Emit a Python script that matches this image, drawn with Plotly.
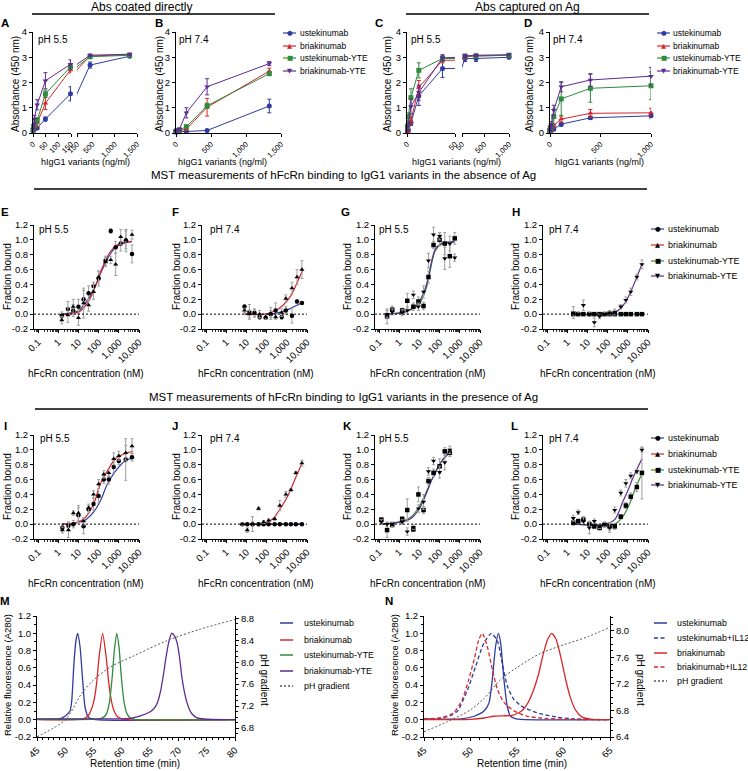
import plotly.graph_objects as go

W, H = 748, 771
FONT = "Liberation Sans, Arial, Helvetica, sans-serif"
BLUE = "#2f3b9e"
RED = "#d8262c"
GREEN = "#2f8c3c"
PURPLE = "#5e2b8f"
ERRGRAY = "#9e9e9e"
PHGRAY = "#555555"

series_names = ["ustekinumab", "briakinumab", "ustekinumab-YTE", "briakinumab-YTE"]
series_colors = [BLUE, RED, GREEN, PURPLE]
series_symbols = ["circle", "triangle-up", "square", "triangle-down"]
series_glyphs = ["\u25CF", "\u25B2", "\u25A0", "\u25BC"]

# ---------------- ELISA data (A-D) ----------------
conc_AB = [0.6, 1.8, 5.5, 16.5, 49, 148, 444, 1333]
A_ust = [0.08, 0.12, 0.15, 0.2, 0.55, 1.55, 2.69, 3.04]
A_ust_err = [0.02, 0.03, 0.04, 0.05, 0.08, 0.28, 0.12, 0.05]
A_bri = [0.1, 0.15, 0.25, 0.4, 1.18, 2.5, 3.05, 3.1]
A_bri_err = [0.02, 0.04, 0.08, 0.15, 0.25, 0.12, 0.06, 0.04]
A_uyte = [0.12, 0.2, 0.3, 0.5, 1.55, 2.62, 3.02, 3.08]
A_uyte_err = [0.02, 0.04, 0.08, 0.1, 0.15, 0.12, 0.05, 0.05]
A_byte = [0.15, 0.3, 0.55, 1.12, 2.07, 2.72, 3.08, 3.12]
A_byte_err = [0.03, 0.08, 0.15, 0.2, 0.32, 0.18, 0.05, 0.04]

B_ust = [0.04, 0.05, 0.05, 0.05, 0.05, 0.06, 0.1, 1.07]
B_ust_err = [0.01, 0.01, 0.01, 0.01, 0.02, 0.02, 0.03, 0.27]
B_bri = [0.05, 0.05, 0.06, 0.07, 0.09, 0.15, 1.02, 2.45]
B_bri_err = [0.01, 0.01, 0.01, 0.02, 0.02, 0.04, 0.35, 0.12]
B_uyte = [0.05, 0.06, 0.07, 0.09, 0.12, 0.25, 1.08, 2.35]
B_uyte_err = [0.01, 0.01, 0.01, 0.02, 0.03, 0.05, 0.1, 0.06]
B_byte = [0.06, 0.08, 0.1, 0.12, 0.15, 0.8, 1.83, 2.75]
B_byte_err = [0.01, 0.01, 0.02, 0.03, 0.05, 0.2, 0.32, 0.08]

conc_C = [0.46, 1.37, 4.1, 12.3, 37, 111, 333, 1000]
C_ust = [0.05, 0.1, 0.4, 1.47, 2.55, 2.95, 2.95, 3.0]
C_ust_err = [0.02, 0.05, 0.1, 0.38, 0.35, 0.12, 0.12, 0.06]
C_bri = [0.05, 0.2, 0.5, 1.8, 2.88, 3.02, 3.05, 3.08]
C_bri_err = [0.02, 0.08, 0.15, 0.28, 0.1, 0.05, 0.05, 0.04]
C_uyte = [0.25, 0.65, 1.4, 2.48, 2.95, 3.05, 3.05, 3.08]
C_uyte_err = [0.08, 0.15, 0.35, 0.3, 0.12, 0.06, 0.05, 0.04]
C_byte = [0.1, 0.35, 1.05, 1.6, 2.98, 3.05, 3.08, 3.1]
C_byte_err = [0.04, 0.1, 0.3, 0.3, 0.12, 0.06, 0.05, 0.04]

conc_D = [0.46, 1.37, 4.1, 12.3, 37, 111, 400, 1000]
D_ust = [0.05, 0.06, 0.08, 0.1, 0.15, 0.35, 0.6, 0.68]
D_ust_err = [0.01, 0.01, 0.02, 0.02, 0.03, 0.08, 0.05, 0.08]
D_bri = [0.06, 0.08, 0.1, 0.15, 0.3, 0.55, 0.78, 0.8]
D_bri_err = [0.01, 0.02, 0.02, 0.03, 0.05, 0.12, 0.15, 0.18]
D_uyte = [0.1, 0.12, 0.18, 0.25, 0.65, 1.35, 1.77, 1.87]
D_uyte_err = [0.02, 0.03, 0.05, 0.08, 0.3, 0.65, 0.55, 0.55]
D_byte = [0.1, 0.15, 0.25, 0.35, 0.9, 1.83, 2.1, 2.25]
D_byte_err = [0.02, 0.03, 0.05, 0.1, 0.2, 0.2, 0.25, 0.35]

# ---------------- MST data (E-L) ----------------
conc_E = [1.5, 3, 5.5, 10, 18, 32, 56, 100, 220, 400, 700, 1250, 2250, 4500]
E_ust = [-0.02, 0.07, 0.05, 0.1, 0.2, 0.28, 0.38, 0.48, 0.72, 1.12, 0.9, 0.95, 0.99, 0.81]
E_ust_err = [0.05, 0.1, 0.08, 0.1, 0.12, 0.1, 0.05, 0.1, 0.06, 0.03, 0.08, 0.1, 0.15, 0.12]
E_bri = [-0.08, -0.01, 0.1, -0.05, 0.15, 0.12, 0.3, 0.5, 0.7, 0.73, 0.67, 1.04, 1.0, 1.07]
E_bri_err = [0.05, 0.1, 0.1, 0.1, 0.2, 0.08, 0.1, 0.08, 0.06, 0.05, 0.15, 0.1, 0.12, 0.06]
fitE_c = [1.5, 5, 11, 18, 40, 89, 126, 224, 400, 708, 1500, 4500]
fitE_ust = [0.0, 0.02, 0.05, 0.12, 0.25, 0.45, 0.55, 0.7, 0.82, 0.9, 0.95, 0.98]
fitE_bri = [-0.01, 0.01, 0.03, 0.08, 0.22, 0.45, 0.57, 0.73, 0.85, 0.92, 0.96, 0.98]

conc_F = [8, 14, 25, 45, 90, 160, 280, 560, 900, 1800, 3200, 5600]
F_ust = [0.1, 0.03, 0.02, -0.04, -0.05, 0.0, 0.05, -0.04, 0.05, -0.02, 0.17, 0.15]
F_ust_err = [0.03, 0.1, 0.05, 0.03, 0.02, 0.05, 0.1, 0.03, 0.05, 0.1, 0.02, 0.02]
F_bri = [0.05, 0.0, 0.01, 0.0, -0.04, 0.01, -0.04, 0.02, 0.21, 0.35, 0.5, 0.6]
F_bri_err = [0.03, 0.05, 0.05, 0.05, 0.03, 0.08, 0.03, 0.05, 0.05, 0.08, 0.1, 0.12]
fitF_ust_c = [8, 160, 400, 900, 1600, 3200, 5600]
fitF_ust = [0.0, 0.0, 0.02, 0.05, 0.08, 0.12, 0.15]
fitF_bri_c = [8, 90, 280, 650, 1600, 3200, 6300]
fitF_bri = [0.0, 0.0, 0.05, 0.12, 0.25, 0.42, 0.6]

conc_G = [0.25, 0.45, 1.4, 2.5, 5, 8.9, 16, 28, 50, 100, 180, 320, 560]
G_uyte = [-0.03, 0.06, 0.05, 0.18, 0.1, 0.17, 0.11, 0.5, 0.93, 1.0, 0.95, 0.78, 1.02]
G_uyte_err = [0.1, 0.05, 0.03, 0.1, 0.05, 0.06, 0.05, 0.08, 0.05, 0.08, 0.15, 0.15, 0.08]
G_byte = [0.0, 0.03, 0.02, 0.05, 0.26, 0.1, 0.3, 0.72, 1.07, 1.05, 0.75, 0.95, 0.76]
G_byte_err = [0.05, 0.04, 0.04, 0.05, 0.05, 0.05, 0.08, 0.1, 0.1, 0.05, 0.15, 0.1, 0.05]
fitG_c = [0.25, 1.4, 3, 5, 8.9, 18, 28, 35, 60, 120, 560]
fitG_uyte = [0.0, 0.02, 0.05, 0.08, 0.12, 0.28, 0.46, 0.6, 0.85, 0.94, 0.97]
fitG_byte = [0.0, 0.02, 0.05, 0.09, 0.15, 0.32, 0.5, 0.64, 0.87, 0.95, 0.98]

conc_H = [2, 3.5, 6.3, 12.5, 22, 40, 70, 125, 225, 450, 800, 1400, 2800, 5000]
H_uyte = [0.0, 0.0, 0.0, 0.0, 0.0, 0.0, 0.0, 0.0, 0.0, 0.0, 0.0, 0.0, 0.0, 0.0]
H_uyte_err = [0.01, 0.01, 0.01, 0.01, 0.01, 0.01, 0.01, 0.01, 0.01, 0.01, 0.01, 0.01, 0.01, 0.01]
H_byte = [0.02, 0.0, 0.12, 0.0, -0.11, -0.03, 0.0, 0.02, 0.03, 0.1, 0.19, 0.3, 0.5, 0.67]
H_byte_err = [0.08, 0.03, 0.07, 0.03, 0.06, 0.03, 0.03, 0.03, 0.04, 0.03, 0.04, 0.05, 0.04, 0.06]
fitH_c = [2, 100, 250, 450, 800, 1400, 2800, 5000]
fitH_byte = [0.0, 0.0, 0.03, 0.08, 0.17, 0.3, 0.5, 0.67]
fitH_uyte_c = [2, 5000]
fitH_uyte = [0.0, 0.0]

conc_I = [1.6, 3.2, 5.6, 10, 18, 32, 56, 100, 180, 320, 560, 1000, 2200, 4500]
I_ust = [-0.05, -0.02, 0.0, 0.12, -0.03, 0.2, 0.27, 0.38, 0.6, 0.6, 0.77, 0.85, 0.87, 0.9]
I_ust_err = [0.03, 0.05, 0.05, 0.1, 0.1, 0.05, 0.08, 0.1, 0.05, 0.06, 0.08, 0.05, 0.28, 0.05]
I_bri = [-0.08, -0.08, 0.15, 0.15, 0.04, 0.22, 0.4, 0.54, 0.67, 0.69, 0.88, 0.92, 0.96, 1.05]
I_bri_err = [0.04, 0.1, 0.03, 0.1, 0.05, 0.05, 0.05, 0.06, 0.05, 0.05, 0.08, 0.06, 0.1, 0.1]
fitI_c = [1.5, 6, 20, 63, 100, 141, 251, 631, 2000, 5000]
fitI_ust = [0.0, 0.01, 0.05, 0.18, 0.27, 0.35, 0.52, 0.7, 0.85, 0.89]
fitI_bri = [0.0, 0.01, 0.08, 0.3, 0.48, 0.58, 0.7, 0.87, 0.95, 0.98]

conc_J = [6.3, 11, 20, 40, 71, 126, 250, 450, 900, 1600, 2800, 5600]
J_ust = [0.0, 0.0, 0.0, 0.0, 0.0, 0.0, 0.0, 0.0, 0.0, 0.0, 0.0, 0.0]
J_ust_err = [0.01, 0.01, 0.1, 0.02, 0.01, 0.01, 0.01, 0.01, 0.01, 0.01, 0.01, 0.01]
J_bri = [0.0, -0.08, 0.0, 0.21, 0.03, 0.05, 0.07, 0.25, 0.4, 0.46, 0.69, 0.82]
J_bri_err = [0.02, 0.03, 0.03, 0.02, 0.02, 0.02, 0.02, 0.07, 0.04, 0.02, 0.02, 0.04]
fitJ_c = [6.3, 63, 200, 560, 1120, 2500, 5600]
fitJ_bri = [0.0, 0.005, 0.07, 0.24, 0.38, 0.6, 0.82]
fitJ_ust_c = [6.3, 5600]
fitJ_ust = [0.0, 0.0]

conc_K = [0.13, 0.25, 0.45, 1.4, 2.5, 5, 8.9, 16, 28, 50, 100, 180, 320]
K_uyte = [0.06, -0.08, -0.01, 0.07, 0.19, -0.07, 0.4, 0.19, 0.58, 0.69, 0.78, 0.98, 0.96]
K_uyte_err = [0.03, 0.1, 0.03, 0.03, 0.15, 0.03, 0.1, 0.05, 0.05, 0.05, 0.1, 0.05, 0.05]
K_byte = [0.03, 0.0, 0.0, 0.03, -0.1, -0.04, 0.21, 0.3, 0.71, 0.85, 0.7, 0.83, 1.0]
K_byte_err = [0.03, 0.03, 0.03, 0.03, 0.05, 0.03, 0.05, 0.1, 0.05, 0.05, 0.08, 0.1, 0.05]
fitK_c = [0.13, 1.4, 4, 8, 16, 25, 40, 56, 90, 126, 200, 320]
fitK_uyte = [0.0, 0.04, 0.1, 0.2, 0.35, 0.47, 0.6, 0.67, 0.78, 0.84, 0.91, 0.96]
fitK_byte = [0.0, 0.03, 0.08, 0.17, 0.32, 0.45, 0.59, 0.67, 0.79, 0.85, 0.92, 0.97]

conc_L = [2, 3.5, 6.3, 12.5, 22, 40, 70, 125, 225, 450, 800, 1400, 2800, 5000]
L_uyte = [0.02, 0.04, 0.06, 0.0, -0.03, -0.05, -0.01, -0.03, -0.03, 0.1, 0.25, 0.37, 0.5, 0.69]
L_uyte_err = [0.04, 0.03, 0.04, 0.04, 0.03, 0.03, 0.03, 0.05, 0.04, 0.03, 0.04, 0.05, 0.06, 0.35]
L_byte = [0.08, 0.16, 0.04, -0.05, 0.04, -0.03, 0.0, -0.05, 0.19, 0.42, 0.55, 0.65, 0.71, 1.0]
L_byte_err = [0.04, 0.03, 0.06, 0.08, 0.03, 0.03, 0.03, 0.06, 0.04, 0.04, 0.05, 0.04, 0.03, 0.03]
fitL_byte_c = [2, 70, 224, 562, 1000, 1778, 5000]
fitL_byte = [0.0, 0.0, 0.06, 0.3, 0.45, 0.62, 0.88]
fitL_uyte_c = [2, 224, 562, 1259, 2512, 5000]
fitL_uyte = [0.0, 0.0, 0.1, 0.28, 0.5, 0.68]

# ---------------- FcRn column data (M, N) ----------------
M_t_ust = [45, 49, 49.95, 50.83, 51.13, 51.54, 51.9, 52.19, 52.6, 53.07, 53.48, 54.07, 55, 80]
M_ust = [0.005, 0.01, 0.04, 0.1, 0.21, 0.66, 0.92, 1.0, 0.85, 0.46, 0.15, 0.03, 0.005, 0.0]
M_t_bri = [45, 52.5, 53.5, 54.0, 54.5, 55.0, 55.5, 56.0, 56.6, 57.2, 57.7, 58.2, 58.7, 59.3, 60, 61, 80]
M_bri = [0.0, 0.005, 0.02, 0.04, 0.1, 0.2, 0.4, 0.74, 1.0, 0.74, 0.42, 0.2, 0.09, 0.03, 0.01, 0.0, 0.0]
M_t_uyte = [45, 56, 56.8, 57.3, 57.8, 58.3, 58.7, 59.1, 59.5, 59.9, 60.4, 60.9, 61.5, 62.2, 80]
M_uyte = [0.005, 0.01, 0.03, 0.07, 0.2, 0.5, 0.82, 1.0, 0.84, 0.5, 0.2, 0.07, 0.02, 0.005, 0.0]
M_t_byte = [45, 60, 61.5, 62.5, 63.5, 64.5, 65.2, 65.8, 66.3, 66.8, 67.3, 67.8, 68.3, 68.8, 69.3,
            69.8, 70.2, 70.6, 71.0, 71.5, 72.0, 72.5, 73.2, 74.5, 76, 80]
M_byte = [0.01, 0.01, 0.015, 0.03, 0.05, 0.075, 0.1, 0.14, 0.2, 0.32, 0.5, 0.72, 0.9, 1.0, 0.97,
          0.88, 0.72, 0.5, 0.34, 0.2, 0.11, 0.06, 0.025, 0.008, 0.003, 0.0]
M_t_ph = [45, 50, 52.9, 55, 57.9, 62, 67.9, 73.8, 80]
M_ph = [6.64, 6.95, 7.43, 7.675, 7.91, 8.11, 8.39, 8.6, 8.78]

N_t_ust = [45, 49, 50.4, 51.45, 51.98, 52.34, 52.7, 53.0, 53.24, 53.6, 53.96, 54.3, 54.9, 65]
N_ust = [0.01, 0.01, 0.04, 0.1, 0.19, 0.46, 0.85, 1.0, 0.89, 0.46, 0.15, 0.04, 0.01, 0.0]
N_t_ust_il = [45, 46.8, 47.9, 48.6, 49.7, 50.56, 51.45, 52.24, 52.9, 53.4, 53.96, 54.7, 55.75, 57.5, 59.3, 61.1, 65]
N_ust_il = [0.01, 0.02, 0.05, 0.1, 0.35, 0.62, 0.89, 1.0, 0.91, 0.66, 0.39, 0.23, 0.14, 0.07, 0.03, 0.01, 0.0]
N_t_bri = [45, 50, 51.5, 52.5, 53.5, 54.5, 55.5, 56.2, 56.8, 57.3, 57.8, 58.3, 58.73, 59.2, 59.7,
           60.2, 60.7, 61.3, 62, 63, 65]
N_bri = [0.0, 0.005, 0.02, 0.04, 0.045, 0.05, 0.1, 0.2, 0.35, 0.52, 0.75, 0.93, 1.0, 0.93, 0.73,
         0.48, 0.27, 0.11, 0.03, 0.005, 0.0]
N_t_bri_il = [45, 46.8, 48.2, 49.1, 49.8, 50.4, 50.9, 51.27, 51.8, 52.35, 52.9, 53.6, 54.7, 56.1, 57.5, 60, 65]
N_bri_il = [0.01, 0.02, 0.08, 0.23, 0.46, 0.7, 0.93, 1.0, 0.85, 0.58, 0.35, 0.2, 0.1, 0.04, 0.02, 0.005, 0.0]
N_t_ph = [45, 47.5, 50, 51.45, 53.2, 55, 57.5, 60, 62.56, 64.9]
N_ph = [6.48, 6.63, 6.81, 6.98, 7.26, 7.45, 7.66, 7.79, 7.91, 8.05]

# =====================================================================
fig = go.Figure()
axes_layout = {}
shapes = []
annotations = []
_n = [0]


def base_axis(**kw):
    d = dict(showline=True, linecolor="black", linewidth=1, ticks="outside", ticklen=3,
             tickwidth=1, tickcolor="black", showgrid=False, zeroline=False, automargin=False,
             tickfont=dict(family=FONT, size=9.5, color="black"), fixedrange=True)
    d.update(kw)
    return d


def make_axes(x0, x1, y0, y1, xkw, ykw):
    _n[0] += 1
    n = _n[0]
    s = "" if n == 1 else str(n)
    axes_layout["xaxis" + s] = dict(domain=[x0 / W, x1 / W], anchor="y" + s, **xkw)
    axes_layout["yaxis" + s] = dict(domain=[1 - y1 / H, 1 - y0 / H], anchor="x" + s, **ykw)
    return "x" + s, "y" + s


def overlay_y(xref, yref, ykw):
    _n[0] += 1
    s = str(_n[0])
    axes_layout["yaxis" + s] = dict(overlaying=yref, anchor=xref, side="right", **ykw)
    return "y" + s


def txt(s, x, y, size=10, xanchor="center", yanchor="middle", angle=0, bold=False):
    annotations.append(dict(text=("<b>%s</b>" % s) if bold else s, x=x / W, y=1 - y / H,
                            xref="paper", yref="paper", xanchor=xanchor, yanchor=yanchor,
                            showarrow=False, textangle=angle,
                            font=dict(family=FONT, size=size, color="black")))


def hline(x0, x1, y, width=1.5, color="black", dash="solid"):
    shapes.append(dict(type="line", xref="paper", yref="paper", x0=x0 / W, x1=x1 / W,
                       y0=1 - y / H, y1=1 - y / H, line=dict(color=color, width=width, dash=dash)))


# ---------------- ELISA panels ----------------
ELISA_Y = dict(range=[0, 4], tickmode="array", tickvals=[0, 1, 2, 3, 4])
HIDDEN_Y = dict(range=[0, 4], visible=False, fixedrange=True, automargin=False)


def elisa_x(rng, vals, texts):
    return base_axis(range=rng, tickmode="array", tickvals=vals, ticktext=texts, tickangle=-45,
                     tickfont=dict(family=FONT, size=7.5, color="black"))


def elisa_traces(xref, yref, conc, sets, rng):
    for i, (vals, errs) in enumerate(sets):
        fig.add_trace(go.Scatter(x=conc, y=vals, mode="lines", xaxis=xref, yaxis=yref,
                                 line=dict(color=series_colors[i], width=1),
                                 showlegend=False, hoverinfo="skip"))
        idx = [k for k, c in enumerate(conc) if rng[0] <= c <= rng[1]]
        fig.add_trace(go.Scatter(x=[conc[k] for k in idx], y=[vals[k] for k in idx], mode="markers",
                                 xaxis=xref, yaxis=yref, cliponaxis=False,
                                 marker=dict(color=series_colors[i], symbol=series_symbols[i], size=5),
                                 error_y=dict(type="data", array=[errs[k] for k in idx],
                                              color=series_colors[i], thickness=1, width=2),
                                 showlegend=False, name=series_names[i]))


A_sets = [(A_ust, A_ust_err), (A_bri, A_bri_err), (A_uyte, A_uyte_err), (A_byte, A_byte_err)]
B_sets = [(B_ust, B_ust_err), (B_bri, B_bri_err), (B_uyte, B_uyte_err), (B_byte, B_byte_err)]
C_sets = [(C_ust, C_ust_err), (C_bri, C_bri_err), (C_uyte, C_uyte_err), (C_byte, C_byte_err)]
D_sets = [(D_ust, D_ust_err), (D_bri, D_bri_err), (D_uyte, D_uyte_err), (D_byte, D_byte_err)]

ROW1_T, ROW1_B = 32, 133
xa, ya = make_axes(33, 71, ROW1_T, ROW1_B,
                   elisa_x([0, 150], [0, 50, 100, 150], ["0", "50", "100", "150"]),
                   base_axis(**ELISA_Y))
elisa_traces(xa, ya, conc_AB, A_sets, [0, 150])
xa2, ya2 = make_axes(77, 137, ROW1_T, ROW1_B,
                     elisa_x([150, 1500], [150, 500, 1000, 1500], ["150", "500", "1,000", "1,500"]),
                     dict(HIDDEN_Y))
elisa_traces(xa2, ya2, conc_AB, A_sets, [150, 1500])
xb, yb = make_axes(176, 281, ROW1_T, ROW1_B,
                   elisa_x([0, 1500], [0, 500, 1000, 1500], ["0", "500", "1,000", "1,500"]),
                   base_axis(**ELISA_Y))
elisa_traces(xb, yb, conc_AB, B_sets, [0, 1500])
xc, yc = make_axes(407, 455, ROW1_T, ROW1_B,
                   elisa_x([0, 50], [0, 50], ["0", "50"]), base_axis(**ELISA_Y))
elisa_traces(xc, yc, conc_C, C_sets, [0, 50])
xc2, yc2 = make_axes(462, 509, ROW1_T, ROW1_B,
                     elisa_x([50, 1000], [50, 500, 1000], ["50", "500", "1,000"]),
                     dict(HIDDEN_Y))
elisa_traces(xc2, yc2, conc_C, C_sets, [50, 1000])
xd, yd = make_axes(550, 651, ROW1_T, ROW1_B,
                   elisa_x([0, 1000], [0, 500, 1000], ["0", "500", "1,000"]), base_axis(**ELISA_Y))
elisa_traces(xd, yd, conc_D, D_sets, [0, 1000])

# ---------------- MST panels ----------------
minor_log = [m * 10 ** e for e in range(-2, 5) for m in range(2, 10)]
MST_X = base_axis(type="log", range=[-1.2, 4.0], tickmode="array",
                  tickvals=[0.1, 1, 10, 100, 1000, 10000],
                  ticktext=["0.1", "1", "10", "100", "1,000", "10,000"], tickangle=-45,
                  minor=dict(tickmode="array", tickvals=minor_log, ticks="outside", ticklen=2,
                             tickwidth=0.8, tickcolor="black"))
MST_Y = base_axis(range=[-0.2, 1.2], tickmode="array",
                  tickvals=[-0.2, 0, 0.2, 0.4, 0.6, 0.8, 1.0, 1.2],
                  ticktext=["-0.2", "0.0", "0.2", "0.4", "0.6", "0.8", "1.0", "1.2"])


def mst_panel(x0, ytop, fits, pts):
    xr, yr = make_axes(x0, x0 + 105, ytop, ytop + 104, dict(MST_X), dict(MST_Y))
    shapes.append(dict(type="line", xref=xr + " domain", yref=yr, x0=0, x1=1, y0=0, y1=0,
                       line=dict(color="black", width=1, dash="2px,2px")))
    for c, v, si in fits:
        fig.add_trace(go.Scatter(x=c, y=v, mode="lines", xaxis=xr, yaxis=yr,
                                 line=dict(color=series_colors[si], width=1.2, shape="spline",
                                           smoothing=0.8),
                                 showlegend=False, hoverinfo="skip"))
    for c, v, e, si in pts:
        fig.add_trace(go.Scatter(x=c, y=v, mode="markers", xaxis=xr, yaxis=yr, cliponaxis=False,
                                 marker=dict(color="black", symbol=series_symbols[si], size=4.5),
                                 error_y=dict(type="data", array=e, color=ERRGRAY, thickness=1, width=1.5),
                                 showlegend=False, name=series_names[si]))
    return xr, yr


ROW2_T, ROW3_T = 225, 435
COLS = [34, 202, 375, 543]
mst_panel(COLS[0], ROW2_T, [(fitE_c, fitE_ust, 0), (fitE_c, fitE_bri, 1)],
          [(conc_E, E_ust, E_ust_err, 0), (conc_E, E_bri, E_bri_err, 1)])
mst_panel(COLS[1], ROW2_T, [(fitF_ust_c, fitF_ust, 0), (fitF_bri_c, fitF_bri, 1)],
          [(conc_F, F_ust, F_ust_err, 0), (conc_F, F_bri, F_bri_err, 1)])
mst_panel(COLS[2], ROW2_T, [(fitG_c, fitG_uyte, 2), (fitG_c, fitG_byte, 3)],
          [(conc_G, G_uyte, G_uyte_err, 2), (conc_G, G_byte, G_byte_err, 3)])
mst_panel(COLS[3], ROW2_T, [(fitH_uyte_c, fitH_uyte, 2), (fitH_c, fitH_byte, 3)],
          [(conc_H, H_uyte, H_uyte_err, 2), (conc_H, H_byte, H_byte_err, 3)])
mst_panel(COLS[0], ROW3_T, [(fitI_c, fitI_ust, 0), (fitI_c, fitI_bri, 1)],
          [(conc_I, I_ust, I_ust_err, 0), (conc_I, I_bri, I_bri_err, 1)])
mst_panel(COLS[1], ROW3_T, [(fitJ_ust_c, fitJ_ust, 0), (fitJ_c, fitJ_bri, 1)],
          [(conc_J, J_ust, J_ust_err, 0), (conc_J, J_bri, J_bri_err, 1)])
mst_panel(COLS[2], ROW3_T, [(fitK_c, fitK_uyte, 2), (fitK_c, fitK_byte, 3)],
          [(conc_K, K_uyte, K_uyte_err, 2), (conc_K, K_byte, K_byte_err, 3)])
mst_panel(COLS[3], ROW3_T, [(fitL_uyte_c, fitL_uyte, 2), (fitL_byte_c, fitL_byte, 3)],
          [(conc_L, L_uyte, L_uyte_err, 2), (conc_L, L_byte, L_byte_err, 3)])

# ---------------- M and N chromatograms ----------------
REL_Y = base_axis(range=[-0.2, 1.2], tickmode="array", tickvals=[-0.2, 0, 0.2, 0.4, 0.6, 0.8, 1.0, 1.2],
                  ticktext=["-0.2", "0.0", "0.2", "0.4", "0.6", "0.8", "1.0", "1.2"],
                  minor=dict(dtick=0.1, tick0=0, ticks="outside", ticklen=2, tickcolor="black"))

xm, ym = make_axes(37, 235, 616, 737,
                   base_axis(range=[45, 80], tickmode="array", tickvals=[45, 50, 55, 60, 65, 70, 75, 80],
                             tickangle=-45,
                             minor=dict(dtick=1, tick0=45, ticks="outside", ticklen=2, tickcolor="black")),
                   dict(REL_Y))
ym2 = overlay_y(xm, ym, base_axis(range=[6.636, 8.842], tickmode="array",
                                  tickvals=[6.8, 7.2, 7.6, 8.0, 8.4, 8.8],
                                  ticktext=["6.8", "7.2", "7.6", "8.0", "8.4", "8.8"],
                                  minor=dict(dtick=0.1, tick0=6.8, ticks="outside", ticklen=2,
                                             tickcolor="black")))
for t, v, col in [(M_t_ust, M_ust, BLUE), (M_t_bri, M_bri, RED), (M_t_uyte, M_uyte, GREEN),
                  (M_t_byte, M_byte, PURPLE)]:
    fig.add_trace(go.Scatter(x=t, y=v, mode="lines", xaxis=xm, yaxis=ym,
                             line=dict(color=col, width=1.3, shape="spline", smoothing=0.6),
                             showlegend=False, hoverinfo="skip"))
fig.add_trace(go.Scatter(x=M_t_ph, y=M_ph, mode="lines", xaxis=xm, yaxis=ym2,
                         line=dict(color=PHGRAY, width=1, dash="2px,2px", shape="spline", smoothing=0.8),
                         showlegend=False, hoverinfo="skip"))

xn, yn = make_axes(424, 610, 616, 737,
                   base_axis(range=[45, 65], tickmode="array", tickvals=[45, 50, 55, 60, 65],
                             tickangle=-45,
                             minor=dict(dtick=1, tick0=45, ticks="outside", ticklen=2, tickcolor="black")),
                   dict(REL_Y))
yn2 = overlay_y(xn, yn, base_axis(range=[6.4, 8.226], tickmode="array",
                                  tickvals=[6.4, 6.8, 7.2, 7.6, 8.0],
                                  ticktext=["6.4", "6.8", "7.2", "7.6", "8.0"],
                                  minor=dict(dtick=0.1, tick0=6.4, ticks="outside", ticklen=2,
                                             tickcolor="black")))
for t, v, col, dash in [(N_t_ust, N_ust, BLUE, "solid"), (N_t_ust_il, N_ust_il, BLUE, "4px,2.5px"),
                        (N_t_bri, N_bri, RED, "solid"), (N_t_bri_il, N_bri_il, RED, "4px,2.5px")]:
    fig.add_trace(go.Scatter(x=t, y=v, mode="lines", xaxis=xn, yaxis=yn,
                             line=dict(color=col, width=1.3, dash=dash, shape="spline", smoothing=0.6),
                             showlegend=False, hoverinfo="skip"))
fig.add_trace(go.Scatter(x=N_t_ph, y=N_ph, mode="lines", xaxis=xn, yaxis=yn2,
                         line=dict(color=PHGRAY, width=1, dash="2px,2px", shape="spline", smoothing=0.8),
                         showlegend=False, hoverinfo="skip"))

# ---------------- text: titles, labels ----------------
txt("Abs coated directly", 141, 7, size=12)
hline(32, 275, 14)
txt("Abs captured on Ag", 527, 7, size=12)
hline(406, 649, 14)
txt("MST measurements of hFcRn binding to IgG1 variants in the absence of Ag", 343, 175, size=11.5)
hline(34, 647, 189)
txt("MST measurements of hFcRn binding to IgG1 variants in the presence of Ag", 343, 397, size=11.5)
hline(35, 648, 409)

for letter, x, y in [("A", 5, 23), ("B", 159, 23), ("C", 379, 23), ("D", 528, 23),
                     ("E", 5, 212), ("F", 175, 212), ("G", 345, 212), ("H", 516, 212),
                     ("I", 5, 426), ("J", 175, 426), ("K", 347, 426), ("L", 514, 426),
                     ("M", 5, 601), ("N", 389, 601)]:
    txt(letter, x, y, size=11.5, xanchor="center", bold=True)

for s, x, y in [("pH 5.5", 36, 39), ("pH 7.4", 177, 39), ("pH 5.5", 409, 39), ("pH 7.4", 551, 39),
                ("pH 5.5", 37, 229), ("pH 7.4", 208, 229), ("pH 5.5", 377, 229), ("pH 7.4", 547, 229),
                ("pH 5.5", 38, 438), ("pH 7.4", 208, 438), ("pH 5.5", 377, 438), ("pH 7.4", 547, 438)]:
    txt(s, x, y, size=10, xanchor="left")

for x in [15, 159, 387, 529]:
    txt("Absorbance (450 nm)", x, 84, size=10, angle=-90)
for x in [85, 222, 456, 599]:
    txt("hIgG1 variants (ng/ml)", x, 162, size=9)
for x in [7, 176, 347, 515]:
    txt("Fraction bound", x, 277, size=10, angle=-90)
    txt("Fraction bound", x, 487, size=10, angle=-90)
for x in [86, 256, 428, 598]:
    txt("hFcRn concentration (nM)", x, 373, size=10)
    txt("hFcRn concentration (nM)", x, 583, size=10)
txt("Retention time (min)", 135, 763, size=10)
txt("Retention time (min)", 522, 763, size=10)
txt("Relative fluorescence (A280)", 7, 675, size=9.5, angle=-90)
txt("Relative fluorescence (A280)", 394, 675, size=9.5, angle=-90)
txt("pH gradient", 265, 680, size=10, angle=90)
txt("pH gradient", 641, 680, size=10, angle=90)


# ---------------- legends ----------------
def marker_legend(xl0, xl1, xt, ys, glyph_colors, line_colors, fsize):
    for i, y in enumerate(ys):
        hline(xl0, xl1, y, width=1.2, color=line_colors[i])
        annotations.append(dict(text=series_glyphs[i], x=((xl0 + xl1) / 2) / W, y=1 - y / H,
                                xref="paper", yref="paper", xanchor="center", yanchor="middle",
                                showarrow=False, font=dict(size=6.5, color=glyph_colors[i],
                                                           family="DejaVu Sans")))
        txt(series_names[i], xt, y, size=fsize, xanchor="left")


marker_legend(283, 296, 298, [33, 46, 58, 71], series_colors, series_colors, 8.5)
marker_legend(657, 670, 671, [33, 46, 58, 71], series_colors, series_colors, 8.5)
marker_legend(651, 664, 666, [229, 245, 261, 276], ["black"] * 4, series_colors, 9)
marker_legend(651, 664, 666, [438, 454, 470, 485], ["black"] * 4, series_colors, 9)

M_leg = [("ustekinumab", BLUE, "solid"), ("briakinumab", RED, "solid"),
         ("ustekinumab-YTE", GREEN, "solid"), ("briakinumab-YTE", PURPLE, "solid"),
         ("pH gradient", PHGRAY, "2px,2px")]
for (name, col, dash), y in zip(M_leg, [623, 640, 655, 671, 686]):
    hline(280, 293, y, width=1.5, color=col, dash=dash)
    txt(name, 302, y, size=8.8, xanchor="left")
N_leg = [("ustekinumab", BLUE, "solid"), ("ustekinumab+IL12", BLUE, "4px,2.5px"),
         ("briakinumab", RED, "solid"), ("briakinumab+IL12", RED, "4px,2.5px"),
         ("pH gradient", PHGRAY, "2px,2px")]
for (name, col, dash), y in zip(N_leg, [623, 638, 653, 667, 681]):
    hline(654, 667, y, width=1.5, color=col, dash=dash)
    txt(name, 675, y, size=8.8, xanchor="left")

fig.update_layout(width=W, height=H, margin=dict(l=0, r=0, t=0, b=0, pad=0, autoexpand=False),
                  paper_bgcolor="white", plot_bgcolor="white", showlegend=False,
                  font=dict(family=FONT, size=10, color="black"),
                  shapes=shapes, annotations=annotations, **axes_layout)
fig.write_html("out.html", config={"displayModeBar": False, "staticPlot": True},
               post_script="document.body.style.margin='0px';document.body.style.padding='0px';")
